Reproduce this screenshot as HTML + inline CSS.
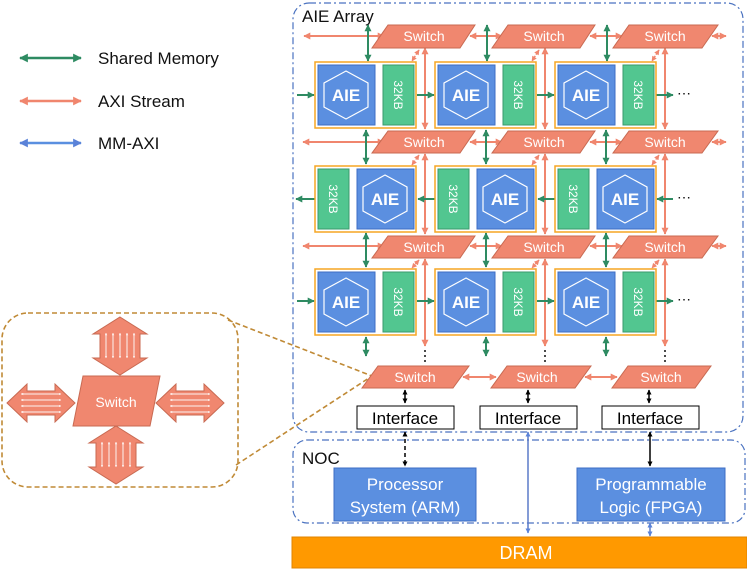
<!DOCTYPE html>
<html><head><meta charset="utf-8"><style>
html,body{margin:0;padding:0;background:#fff;}
svg{display:block;font-family:"Liberation Sans",Arial,sans-serif;}
</style></head><body>
<svg width="747" height="569" viewBox="0 0 747 569" xmlns="http://www.w3.org/2000/svg">
<defs>
<marker id="g" viewBox="0 0 10 10" refX="9" refY="5" markerWidth="3.5" markerHeight="3.5" orient="auto-start-reverse"><path d="M0,0L10,5L0,10z" fill="#2e8b62"/></marker>
<marker id="p" viewBox="0 0 10 10" refX="9" refY="5" markerWidth="3.5" markerHeight="3.5" orient="auto-start-reverse"><path d="M0,0L10,5L0,10z" fill="#f0866e"/></marker>
<marker id="b" viewBox="0 0 10 10" refX="9" refY="5" markerWidth="3.5" markerHeight="3.5" orient="auto-start-reverse"><path d="M0,0L10,5L0,10z" fill="#5a82d8"/></marker>
<marker id="k" viewBox="0 0 10 10" refX="9" refY="5" markerWidth="3.5" markerHeight="3.5" orient="auto-start-reverse"><path d="M0,0L10,5L0,10z" fill="#000"/></marker>
<marker id="w" viewBox="0 0 10 10" refX="9" refY="5" markerWidth="2.5" markerHeight="2.5" orient="auto-start-reverse"><path d="M0,0L10,5L0,10z" fill="#fff"/></marker>
</defs>

<!-- legend -->
<line x1="20" y1="58" x2="81" y2="58" stroke="#2e8b62" stroke-width="2.5" marker-start="url(#g)" marker-end="url(#g)"/>
<line x1="20" y1="101" x2="81" y2="101" stroke="#f0866e" stroke-width="2.5" marker-start="url(#p)" marker-end="url(#p)"/>
<line x1="20" y1="143" x2="81" y2="143" stroke="#5a8fe0" stroke-width="2.5" marker-start="url(#b)" marker-end="url(#b)"/>
<text x="98" y="64" font-size="17" fill="#111">Shared Memory</text>
<text x="98" y="107" font-size="17" fill="#111">AXI Stream</text>
<text x="98" y="149" font-size="17" fill="#111">MM-AXI</text>

<!-- containers -->
<rect x="293" y="3" width="450" height="429" rx="16" fill="none" stroke="#4a72c0" stroke-width="1.2" stroke-dasharray="7,3,2,3"/>
<text x="302" y="22" font-size="17" fill="#111">AIE Array</text>
<rect x="293" y="440" width="452" height="83" rx="14" fill="none" stroke="#4a72c0" stroke-width="1.2" stroke-dasharray="7,3,2,3"/>
<text x="302" y="464" font-size="17" fill="#111">NOC</text>

<!-- inset -->
<rect x="2" y="313" width="236" height="174" rx="26" fill="none" stroke="#c08a36" stroke-width="1.6" stroke-dasharray="5,3"/>
<line x1="228" y1="320" x2="372" y2="376" stroke="#c08a36" stroke-width="1.6" stroke-dasharray="5,3"/>
<line x1="236" y1="465" x2="372" y2="376" stroke="#c08a36" stroke-width="1.6" stroke-dasharray="5,3"/>

<g fill="#f0876f" stroke="#c86a52" stroke-width="1">
<!-- up -->
<polygon points="120,317 147,334 140,334 140,358 147,358 120,375 93,358 100,358 100,334 93,334"/>
<!-- down -->
<polygon points="116,426 143,443 136,443 136,467 143,467 116,484 89,467 96,467 96,443 89,443"/>
<!-- left -->
<polygon points="7,403 27,384 27,391 55,391 55,384 75,403 55,422 55,415 27,415 27,422"/>
<!-- right -->
<polygon points="156,403 176,384 176,391 204,391 204,384 224,403 204,422 204,415 176,415 176,422"/>
<polygon points="83,376 160,376 150,426 73,426"/>
</g>
<text x="116" y="407" font-size="14" fill="#fff" text-anchor="middle">Switch</text>
<g stroke="#fff" stroke-width="1" opacity="0.9">
<line x1="106" y1="333" x2="106" y2="358" marker-start="url(#w)" marker-end="url(#w)"/>
<line x1="113" y1="333" x2="113" y2="358" marker-start="url(#w)" marker-end="url(#w)"/>
<line x1="120" y1="333" x2="120" y2="358" marker-start="url(#w)" marker-end="url(#w)"/>
<line x1="127" y1="333" x2="127" y2="358" marker-start="url(#w)" marker-end="url(#w)"/>
<line x1="134" y1="333" x2="134" y2="358" marker-start="url(#w)" marker-end="url(#w)"/>
<line x1="102" y1="442" x2="102" y2="467" marker-start="url(#w)" marker-end="url(#w)"/>
<line x1="109" y1="442" x2="109" y2="467" marker-start="url(#w)" marker-end="url(#w)"/>
<line x1="116" y1="442" x2="116" y2="467" marker-start="url(#w)" marker-end="url(#w)"/>
<line x1="123" y1="442" x2="123" y2="467" marker-start="url(#w)" marker-end="url(#w)"/>
<line x1="130" y1="442" x2="130" y2="467" marker-start="url(#w)" marker-end="url(#w)"/>
<line x1="21" y1="394" x2="61" y2="394" marker-start="url(#w)" marker-end="url(#w)"/>
<line x1="21" y1="400" x2="61" y2="400" marker-start="url(#w)" marker-end="url(#w)"/>
<line x1="21" y1="406" x2="61" y2="406" marker-start="url(#w)" marker-end="url(#w)"/>
<line x1="21" y1="412" x2="61" y2="412" marker-start="url(#w)" marker-end="url(#w)"/>
<line x1="170" y1="394" x2="210" y2="394" marker-start="url(#w)" marker-end="url(#w)"/>
<line x1="170" y1="400" x2="210" y2="400" marker-start="url(#w)" marker-end="url(#w)"/>
<line x1="170" y1="406" x2="210" y2="406" marker-start="url(#w)" marker-end="url(#w)"/>
<line x1="170" y1="412" x2="210" y2="412" marker-start="url(#w)" marker-end="url(#w)"/>
</g>

<!-- pink horizontal AXI rows -->
<g stroke="#f0866e" stroke-width="2">
<line x1="304" y1="36" x2="384" y2="36" marker-start="url(#p)" marker-end="url(#p)"/>
<line x1="470" y1="36" x2="502" y2="36" marker-start="url(#p)" marker-end="url(#p)"/>
<line x1="590" y1="36" x2="622" y2="36" marker-start="url(#p)" marker-end="url(#p)"/>
<line x1="712" y1="36" x2="726" y2="36" marker-start="url(#p)" marker-end="url(#p)"/>
<line x1="303" y1="142" x2="384" y2="142" marker-start="url(#p)" marker-end="url(#p)"/>
<line x1="470" y1="142" x2="502" y2="142" marker-start="url(#p)" marker-end="url(#p)"/>
<line x1="590" y1="142" x2="622" y2="142" marker-start="url(#p)" marker-end="url(#p)"/>
<line x1="712" y1="142" x2="726" y2="142" marker-start="url(#p)" marker-end="url(#p)"/>
<line x1="303" y1="246" x2="384" y2="246" marker-start="url(#p)" marker-end="url(#p)"/>
<line x1="470" y1="246" x2="502" y2="246" marker-start="url(#p)" marker-end="url(#p)"/>
<line x1="590" y1="246" x2="622" y2="246" marker-start="url(#p)" marker-end="url(#p)"/>
<line x1="712" y1="246" x2="726" y2="246" marker-start="url(#p)" marker-end="url(#p)"/>
<line x1="463" y1="377" x2="496" y2="377" marker-start="url(#p)" marker-end="url(#p)"/>
<line x1="585" y1="377" x2="617" y2="377" marker-start="url(#p)" marker-end="url(#p)"/>
<!-- pink verticals -->
<line x1="425" y1="48" x2="425" y2="129" marker-start="url(#p)" marker-end="url(#p)"/>
<line x1="545" y1="48" x2="545" y2="129" marker-start="url(#p)" marker-end="url(#p)"/>
<line x1="665" y1="48" x2="665" y2="129" marker-start="url(#p)" marker-end="url(#p)"/>
<line x1="425" y1="154" x2="425" y2="234" marker-start="url(#p)" marker-end="url(#p)"/>
<line x1="545" y1="154" x2="545" y2="234" marker-start="url(#p)" marker-end="url(#p)"/>
<line x1="665" y1="154" x2="665" y2="234" marker-start="url(#p)" marker-end="url(#p)"/>
<line x1="425" y1="259" x2="425" y2="346" marker-start="url(#p)" marker-end="url(#p)"/>
<line x1="545" y1="259" x2="545" y2="346" marker-start="url(#p)" marker-end="url(#p)"/>
<line x1="665" y1="259" x2="665" y2="346" marker-start="url(#p)" marker-end="url(#p)"/>
</g>
<g stroke="#f0866e" stroke-width="1.5" stroke-dasharray="2,1.5">
<line x1="419" y1="50" x2="412" y2="61" marker-start="url(#p)" marker-end="url(#p)"/>
<line x1="539" y1="50" x2="532" y2="61" marker-start="url(#p)" marker-end="url(#p)"/>
<line x1="659" y1="50" x2="652" y2="61" marker-start="url(#p)" marker-end="url(#p)"/>
<line x1="419" y1="155" x2="412" y2="165" marker-start="url(#p)" marker-end="url(#p)"/>
<line x1="539" y1="155" x2="532" y2="165" marker-start="url(#p)" marker-end="url(#p)"/>
<line x1="659" y1="155" x2="652" y2="165" marker-start="url(#p)" marker-end="url(#p)"/>
<line x1="419" y1="260" x2="412" y2="268" marker-start="url(#p)" marker-end="url(#p)"/>
<line x1="539" y1="260" x2="532" y2="268" marker-start="url(#p)" marker-end="url(#p)"/>
<line x1="659" y1="260" x2="652" y2="268" marker-start="url(#p)" marker-end="url(#p)"/>
</g>

<!-- green verticals -->
<g stroke="#2e8b62" stroke-width="2">
<line x1="368" y1="25" x2="368" y2="61" marker-start="url(#g)" marker-end="url(#g)"/>
<line x1="487" y1="25" x2="487" y2="61" marker-start="url(#g)" marker-end="url(#g)"/>
<line x1="607" y1="25" x2="607" y2="61" marker-start="url(#g)" marker-end="url(#g)"/>
<line x1="366" y1="130" x2="366" y2="164" marker-start="url(#g)" marker-end="url(#g)"/>
<line x1="486" y1="130" x2="486" y2="164" marker-start="url(#g)" marker-end="url(#g)"/>
<line x1="606" y1="130" x2="606" y2="164" marker-start="url(#g)" marker-end="url(#g)"/>
<line x1="366" y1="233" x2="366" y2="267" marker-start="url(#g)" marker-end="url(#g)"/>
<line x1="486" y1="233" x2="486" y2="267" marker-start="url(#g)" marker-end="url(#g)"/>
<line x1="606" y1="233" x2="606" y2="267" marker-start="url(#g)" marker-end="url(#g)"/>
<line x1="366" y1="337" x2="366" y2="356" marker-start="url(#g)" marker-end="url(#g)"/>
<line x1="486" y1="337" x2="486" y2="356" marker-start="url(#g)" marker-end="url(#g)"/>
<line x1="606" y1="337" x2="606" y2="356" marker-start="url(#g)" marker-end="url(#g)"/>
<!-- green horizontals -->
<line x1="297" y1="95" x2="314" y2="95" marker-end="url(#g)"/>
<line x1="417" y1="95" x2="434" y2="95" marker-end="url(#g)"/>
<line x1="537" y1="95" x2="554" y2="95" marker-end="url(#g)"/>
<line x1="656" y1="95" x2="673" y2="95" marker-end="url(#g)"/>
<line x1="315" y1="199" x2="296" y2="199" marker-end="url(#g)"/>
<line x1="435" y1="199" x2="418" y2="199" marker-end="url(#g)"/>
<line x1="555" y1="199" x2="538" y2="199" marker-end="url(#g)"/>
<line x1="673" y1="199" x2="657" y2="199" marker-end="url(#g)"/>
<line x1="297" y1="301" x2="314" y2="301" marker-end="url(#g)"/>
<line x1="417" y1="301" x2="434" y2="301" marker-end="url(#g)"/>
<line x1="537" y1="301" x2="554" y2="301" marker-end="url(#g)"/>
<line x1="656" y1="301" x2="673" y2="301" marker-end="url(#g)"/>
</g>
<g font-size="14" fill="#111">
<text x="677" y="98">⋯</text><text x="677" y="202">⋯</text><text x="677" y="304">⋯</text>
</g>
<g fill="#111">
<circle cx="425" cy="351" r="1"/><circle cx="425" cy="356" r="1"/><circle cx="425" cy="361" r="1"/>
<circle cx="545" cy="351" r="1"/><circle cx="545" cy="356" r="1"/><circle cx="545" cy="361" r="1"/>
<circle cx="665" cy="351" r="1"/><circle cx="665" cy="356" r="1"/><circle cx="665" cy="361" r="1"/>
</g>

<!-- switches -->
<g fill="#f0876f" stroke="#c86a52" stroke-width="1">
<polygon points="388,25 475,25 460,48 372,48"/>
<polygon points="508,25 595,25 580,48 492,48"/>
<polygon points="629,25 718,25 702,48 613,48"/>
<polygon points="388,131 475,131 460,153 372,153"/>
<polygon points="508,131 595,131 580,153 492,153"/>
<polygon points="629,131 718,131 702,153 613,153"/>
<polygon points="388,236 475,236 460,258 372,258"/>
<polygon points="508,236 595,236 580,258 492,258"/>
<polygon points="629,236 718,236 702,258 613,258"/>
<polygon points="378,366 469,366 453,388 362,388"/>
<polygon points="507,366 591,366 575,388 491,388"/>
<polygon points="628,366 711,366 695,388 612,388"/>
</g>
<g font-size="14" fill="#fff" text-anchor="middle">
<text x="424" y="41">Switch</text><text x="544" y="41">Switch</text><text x="665" y="41">Switch</text>
<text x="424" y="147">Switch</text><text x="544" y="147">Switch</text><text x="665" y="147">Switch</text>
<text x="424" y="252">Switch</text><text x="544" y="252">Switch</text><text x="665" y="252">Switch</text>
<text x="415" y="382">Switch</text><text x="537" y="382">Switch</text><text x="661" y="382">Switch</text>
</g>

<!-- tiles -->
<g stroke="#f5a623" stroke-width="1.5" fill="#fff">
<rect x="315" y="62" width="101" height="66"/><rect x="435" y="62" width="101" height="66"/><rect x="555" y="62" width="101" height="66"/>
<rect x="315" y="166" width="101" height="66"/><rect x="435" y="166" width="101" height="66"/><rect x="555" y="166" width="101" height="66"/>
<rect x="315" y="269" width="101" height="66"/><rect x="435" y="269" width="101" height="66"/><rect x="555" y="269" width="101" height="66"/>
</g>
<g fill="#5b8fe0" stroke="#3e6ec4" stroke-width="1">
<rect x="318" y="65" width="57" height="60"/><rect x="438" y="65" width="57" height="60"/><rect x="558" y="65" width="57" height="60"/>
<rect x="357" y="169" width="57" height="60"/><rect x="477" y="169" width="57" height="60"/><rect x="597" y="169" width="57" height="60"/>
<rect x="318" y="272" width="57" height="60"/><rect x="438" y="272" width="57" height="60"/><rect x="558" y="272" width="57" height="60"/>
</g>
<g fill="#52c690" stroke="#3a9a6c" stroke-width="1">
<rect x="383" y="65" width="31" height="60"/><rect x="503" y="65" width="31" height="60"/><rect x="623" y="65" width="31" height="60"/>
<rect x="318" y="169" width="31" height="60"/><rect x="438" y="169" width="31" height="60"/><rect x="558" y="169" width="31" height="60"/>
<rect x="383" y="272" width="31" height="60"/><rect x="503" y="272" width="31" height="60"/><rect x="623" y="272" width="31" height="60"/>
</g>
<g fill="none" stroke="#fff" stroke-width="1.2">
<polygon points="346,71 368,83 368,107 346,119 324,107 324,83"/>
<polygon points="466,71 488,83 488,107 466,119 444,107 444,83"/>
<polygon points="586,71 608,83 608,107 586,119 564,107 564,83"/>
<polygon points="385,175 407,187 407,211 385,223 363,211 363,187"/>
<polygon points="505,175 527,187 527,211 505,223 483,211 483,187"/>
<polygon points="625,175 647,187 647,211 625,223 603,211 603,187"/>
<polygon points="346,278 368,290 368,314 346,326 324,314 324,290"/>
<polygon points="466,278 488,290 488,314 466,326 444,314 444,290"/>
<polygon points="586,278 608,290 608,314 586,326 564,314 564,290"/>
</g>
<g font-size="17" font-weight="bold" fill="#fff" text-anchor="middle">
<text x="346" y="101">AIE</text><text x="466" y="101">AIE</text><text x="586" y="101">AIE</text>
<text x="385" y="205">AIE</text><text x="505" y="205">AIE</text><text x="625" y="205">AIE</text>
<text x="346" y="308">AIE</text><text x="466" y="308">AIE</text><text x="586" y="308">AIE</text>
</g>
<g font-size="12" fill="#fff" text-anchor="middle">
<text transform="translate(394,95) rotate(90)">32KB</text>
<text transform="translate(514,95) rotate(90)">32KB</text>
<text transform="translate(634,95) rotate(90)">32KB</text>
<text transform="translate(329,199) rotate(90)">32KB</text>
<text transform="translate(449,199) rotate(90)">32KB</text>
<text transform="translate(569,199) rotate(90)">32KB</text>
<text transform="translate(394,302) rotate(90)">32KB</text>
<text transform="translate(514,302) rotate(90)">32KB</text>
<text transform="translate(634,302) rotate(90)">32KB</text>
</g>

<!-- interfaces -->
<g stroke="#000" stroke-width="1.5">
<line x1="405" y1="390" x2="405" y2="403" marker-start="url(#k)" marker-end="url(#k)"/>
<line x1="528" y1="390" x2="528" y2="403" marker-start="url(#k)" marker-end="url(#k)"/>
<line x1="649" y1="390" x2="649" y2="403" marker-start="url(#k)" marker-end="url(#k)"/>
<line x1="405" y1="432" x2="405" y2="466" stroke-dasharray="4,3" marker-start="url(#k)" marker-end="url(#k)"/>
<line x1="650" y1="432" x2="650" y2="466" marker-start="url(#k)" marker-end="url(#k)"/>
</g>
<g stroke="#5a7ac8" stroke-width="1.5">
<line x1="528" y1="432" x2="528" y2="533" marker-start="url(#b)" marker-end="url(#b)"/>
<line x1="650" y1="523" x2="650" y2="536" marker-start="url(#b)" marker-end="url(#b)"/>
</g>
<g fill="#fff" stroke="#000" stroke-width="1">
<rect x="357" y="406" width="97" height="23"/>
<rect x="480" y="406" width="97" height="23"/>
<rect x="602" y="406" width="97" height="23"/>
</g>
<g font-size="17" fill="#000" text-anchor="middle">
<text x="405" y="424">Interface</text><text x="528" y="424">Interface</text><text x="650" y="424">Interface</text>
</g>

<rect x="334" y="468" width="142" height="53" fill="#5b8fe0" stroke="#3e6ec4"/>
<rect x="577" y="468" width="148" height="53" fill="#5b8fe0" stroke="#3e6ec4"/>
<g font-size="17" fill="#fff" text-anchor="middle">
<text x="405" y="490">Processor</text><text x="405" y="513">System (ARM)</text>
<text x="651" y="490">Programmable</text><text x="651" y="513">Logic (FPGA)</text>
</g>

<rect x="292" y="537" width="455" height="31" fill="#ff9900" stroke="#e08400"/>
<text x="526" y="559" font-size="18" fill="#fff" text-anchor="middle">DRAM</text>
</svg>
</body></html>
